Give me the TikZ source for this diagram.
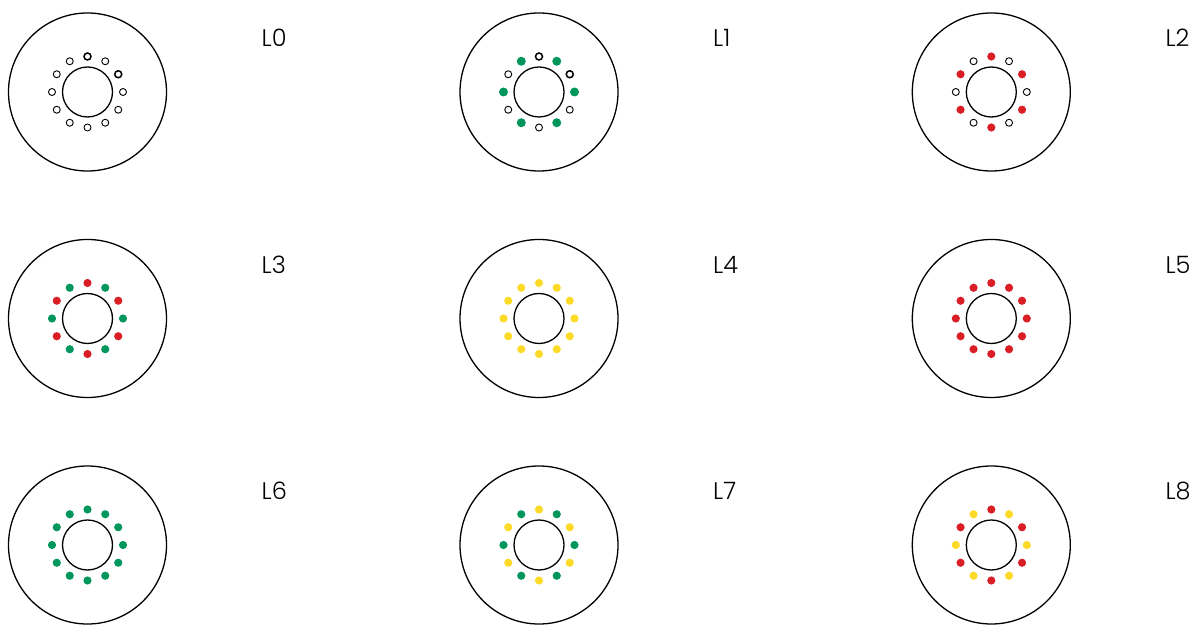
\documentclass[tikz,border=0pt]{standalone}
\usepackage{fontspec}
\newfontfamily\labelfont{Poppins Light}
\usetikzlibrary{calc}
\definecolor{dgreen}{RGB}{0,150,92}
\definecolor{dred}{RGB}{218,30,38}
\definecolor{dyellow}{RGB}{254,218,40}
\tikzset{
  outerring/.style={circle, draw=black, line width=1.3pt, minimum size=158pt, inner sep=0pt},
  innerring/.style={circle, draw=black, line width=1.3pt, minimum size=50pt, inner sep=0pt},
  dotbase/.style={circle, inner sep=0pt, minimum size=8.2pt},
  doto/.style={dotbase, draw=black, fill=white, line width=0.9pt, minimum size=7pt},
  dotg/.style={dotbase, fill=dgreen},
  dotr/.style={dotbase, fill=dred},
  doty/.style={dotbase, fill=dyellow},
  boldring/.style={line width=1.5pt},
  bigdot/.style={minimum size=9pt},
  lab/.style={anchor=west, inner sep=0pt, font=\labelfont\fontsize{24}{24}\selectfont}
}
\begin{document}
\begin{tikzpicture}[x=1pt,y=1pt]
\useasboundingbox (0,0) rectangle (1196,624);
\foreach \lab/\cx/\cy/\ca/\cb [count=\n from 0] in {
  L0/87.5/532/o/o, L1/539/532/o/g, L2/991.3/532/r/o,
  L3/87.5/305.5/r/g, L4/539/305.5/y/y, L5/991.3/305.5/r/r,
  L6/87.5/79/g/g, L7/539/79/y/g, L8/991.3/79/r/y}{
  \node[outerring] (c\n) at (\cx,\cy) {};
  \node[innerring] (i\n) at (\cx,\cy) {};
  \node[lab] (t\n) at (\cx+174,\cy+54) {\lab};
  \foreach \k in {0,...,11}{
    \ifodd\k \edef\cc{\cb}\else\edef\cc{\ca}\fi
    \def\extra{}
    \ifnum\n<2 \ifnum\k=0 \def\extra{boldring}\fi \ifnum\k=2 \def\extra{boldring}\fi\fi
    \ifnum\n=1 \ifodd\k \def\extra{bigdot}\fi\fi
    \pgfmathsetmacro\ang{90-30*\k}
    \node[dot\cc,\extra] (d\n-\k) at ($(c\n)+(\ang:35.5)$) {};
  }
}
\end{tikzpicture}
\end{document}
